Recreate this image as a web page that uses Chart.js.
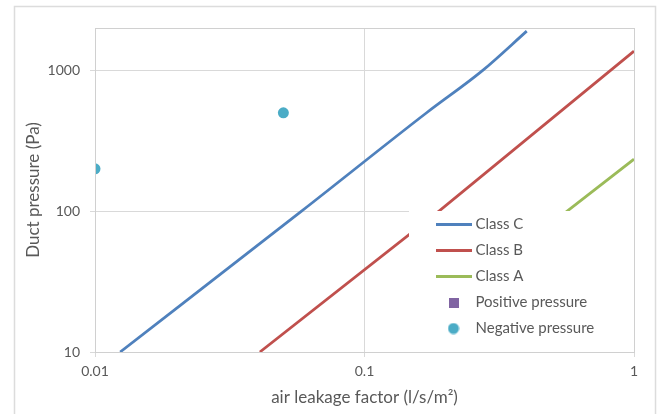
<!DOCTYPE html>
<html>
<head>
<meta charset="utf-8">
<script src="https://cdn.jsdelivr.net/npm/chart.js@4.4.1/dist/chart.umd.min.js"></script>
<style>
  html, body { margin: 0; padding: 0; background: #ffffff; }
  #wrap { position: relative; width: 660px; height: 414px; }
</style>
</head>
<body>
<div id="wrap"><canvas id="c" width="660" height="414"></canvas></div>
<script>
// ---- data ----
const seriesNames = ['Class C', 'Class B', 'Class A', 'Positive pressure', 'Negative pressure'];
const classC_x = [0.0124, 0.0584, 0.170, 0.2746, 0.400];
const classC_y = [10, 100, 500, 1000, 1900];
const classB_x = [0.0409, 0.189, 1];
const classB_y = [10, 100, 1370];
const classA_x = [0.3, 0.565, 1];
const classA_y = [39, 100, 234];
const positive_x = [];
const positive_y = [];
const negative_x = [0.01, 0.05];
const negative_y = [200, 500];
const xTickValues = [0.01, 0.1, 1];
const yTickValues = [10, 100, 1000];
const xTitle = 'air leakage factor (l/s/m\u00B2)';
const yTitle = 'Duct pressure (Pa)';

const colors = ['#4f81bd', '#c0504d', '#9bbb59', '#8064a2', '#4bacc6'];
const textColor = '#595959';
const gridColor = '#d9d9d9';

function pts(xs, ys) { return xs.map((x, i) => ({ x: x, y: ys[i] })); }

function lineSwatch(color) {
  const c = document.createElement('canvas');
  c.width = 36; c.height = 3;
  const g = c.getContext('2d');
  g.fillStyle = color; g.fillRect(0, 0, 36, 3);
  return c;
}
function squareSwatch(color) {
  const c = document.createElement('canvas');
  c.width = 10; c.height = 10;
  const g = c.getContext('2d');
  g.fillStyle = color; g.fillRect(0, 0, 10, 10);
  return c;
}
function circleSwatch(color) {
  const c = document.createElement('canvas');
  c.width = 12; c.height = 12;
  const g = c.getContext('2d');
  g.fillStyle = color; g.beginPath(); g.arc(6, 6, 5.5, 0, Math.PI * 2); g.fill();
  return c;
}
const swatches = [lineSwatch(colors[0]), lineSwatch(colors[1]), lineSwatch(colors[2]),
                  squareSwatch(colors[3]), circleSwatch(colors[4])];

const FONT = 'Lato, "Open Sans", sans-serif';

const decorPlugin = {
  id: 'decor',
  beforeDraw(chart) {
    const ctx = chart.ctx;
    ctx.save();
    ctx.fillStyle = '#ffffff';
    ctx.fillRect(0, 0, chart.width, chart.height);
    ctx.strokeStyle = '#dcdcdc';
    ctx.lineWidth = 1.5;
    ctx.strokeRect(14.5, 6.5, 641, 430);
    ctx.restore();
  },
  afterLayout(chart) {
    const lg = chart.legend;
    if (!lg) return;
    lg.left = 428; lg.top = 206; lg.right = 634; lg.bottom = 352;
    lg.width = lg.right - lg.left; lg.height = lg.bottom - lg.top;
  },
  afterDatasetsDraw(chart) {
    const ctx = chart.ctx;
    ctx.save();
    ctx.fillStyle = '#ffffff';
    ctx.fillRect(409, 211, 225, 140);
    ctx.restore();
    if (chart.legend) chart.legend.draw();
  },
  afterDraw(chart) {
    const a = chart.chartArea;
    const ctx = chart.ctx;
    ctx.save();
    ctx.strokeStyle = '#d0d0d0';
    ctx.lineWidth = 1;
    ctx.strokeRect(Math.round(a.left) + 0.5, Math.round(a.top) + 0.5,
                   Math.round(a.right - a.left), Math.round(a.bottom - a.top));
    ctx.restore();
  }
};

new Chart(document.getElementById('c'), {
  type: 'scatter',
  data: {
    datasets: [
      { label: seriesNames[0], data: pts(classC_x, classC_y), showLine: true, cubicInterpolationMode: 'monotone', borderColor: colors[0], backgroundColor: colors[0], borderWidth: 2.75, pointRadius: 0 },
      { label: seriesNames[1], data: pts(classB_x, classB_y), showLine: true, borderColor: colors[1], backgroundColor: colors[1], borderWidth: 2.75, pointRadius: 0 },
      { label: seriesNames[2], data: pts(classA_x, classA_y), showLine: true, borderColor: colors[2], backgroundColor: colors[2], borderWidth: 2.75, pointRadius: 0 },
      { label: seriesNames[3], data: pts(positive_x, positive_y), showLine: false, pointStyle: 'rect', borderColor: colors[3], backgroundColor: colors[3], pointRadius: 5, borderWidth: 0 },
      { label: seriesNames[4], data: pts(negative_x, negative_y), showLine: false, pointStyle: 'circle', borderColor: colors[4], backgroundColor: colors[4], pointRadius: 5.5, borderWidth: 0 }
    ]
  },
  options: {
    responsive: false,
    animation: false,
    devicePixelRatio: 1,
    layout: { padding: { left: 0, right: 26, top: 28, bottom: 0 } },
    plugins: {
      tooltip: { enabled: false },
      legend: {
        position: 'chartArea',
        align: 'start',
        labels: {
          usePointStyle: true,
          pointStyleWidth: 29,
          padding: 11,
          color: textColor,
          font: { family: FONT, size: 15 },
          generateLabels(chart) {
            return chart.data.datasets.map((ds, i) => ({
              text: ds.label,
              fillStyle: ds.backgroundColor,
              strokeStyle: ds.borderColor,
              lineWidth: 0,
              pointStyle: swatches[i],
              hidden: false,
              fontColor: textColor,
              datasetIndex: i
            }));
          }
        }
      }
    },
    scales: {
      x: {
        type: 'logarithmic',
        min: 0.01, max: 1,
        afterBuildTicks(scale) { scale.ticks = xTickValues.map(v => ({ value: v })); },
        afterFit(scale) { scale.height = 62; },
        ticks: {
          color: textColor, font: { family: FONT, size: 14 }, padding: 6,
          maxRotation: 0, autoSkip: false,
          callback: (v) => String(v)
        },
        grid: { color: gridColor, lineWidth: 1, drawTicks: true, tickLength: 5, tickColor: gridColor },
        border: { color: gridColor },
        title: { display: true, text: xTitle, color: textColor, font: { family: FONT, size: 17 }, padding: { top: 0, bottom: 6 } }
      },
      y: {
        type: 'logarithmic',
        min: 10, max: 2000,
        afterBuildTicks(scale) { scale.ticks = yTickValues.map(v => ({ value: v })); },
        afterFit(scale) { scale.width = 95; },
        ticks: {
          color: textColor, font: { family: FONT, size: 14 }, padding: 10,
          autoSkip: false,
          callback: (v) => String(v)
        },
        grid: { color: gridColor, lineWidth: 1, drawTicks: true, tickLength: 5, tickColor: gridColor },
        border: { color: gridColor },
        title: { display: true, text: yTitle, color: textColor, font: { family: FONT, size: 17 }, padding: { top: 23, bottom: 0 } }
      }
    }
  },
  plugins: [decorPlugin]
});
</script>
</body>
</html>
